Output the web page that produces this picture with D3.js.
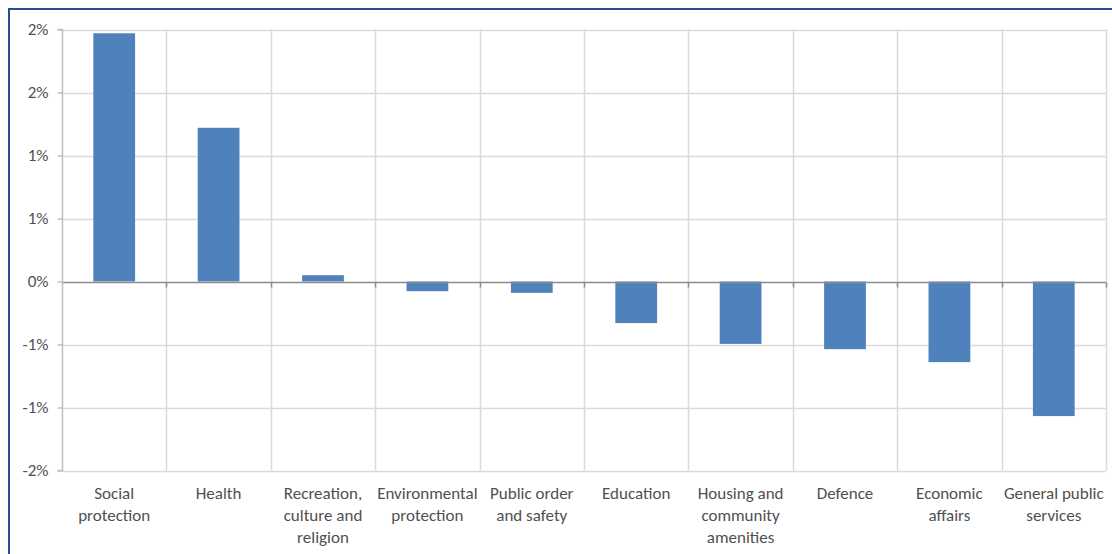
<!DOCTYPE html>
<html>
<head>
<meta charset="utf-8">
<script src="https://cdn.jsdelivr.net/npm/d3@7"></script>
<style>
  html, body { margin: 0; padding: 0; background: #ffffff; }
  svg { display: block; }
  text { font-family: Carlito, Calibri, Lato, "Liberation Sans", sans-serif; fill: #505050; }
</style>
</head>
<body>
<svg id="chart" width="1112" height="554"></svg>
<script>
// Change in spending share by function (percentage points)
const categories = [
  "Social protection", "Health", "Recreation, culture and religion",
  "Environmental protection", "Public order and safety", "Education",
  "Housing and community amenities", "Defence", "Economic affairs",
  "General public services"
];
// Category labels as they wrap under each bar
const categoryLines = [
  ["Social", "protection"],
  ["Health"],
  ["Recreation,", "culture and", "religion"],
  ["Environmental", "protection"],
  ["Public order", "and safety"],
  ["Education"],
  ["Housing and", "community", "amenities"],
  ["Defence"],
  ["Economic", "affairs"],
  ["General public", "services"]
];
const values = [1.97, 1.22, 0.05, -0.077, -0.09, -0.33, -0.495, -0.537, -0.64, -1.068];
const tickValues = [2, 1.5, 1, 0.5, 0, -0.5, -1, -1.5];
const tickLabels = ["2%", "2%", "1%", "1%", "0%", "-1%", "-1%", "-2%"];

const fontSize = 17;
const svg = d3.select("#chart");

// outer frame
svg.append("path")
  .attr("d", "M9,554 L9,9 L1112,9")
  .attr("fill", "none")
  .attr("stroke", "#23508c")
  .attr("stroke-width", 2);

const plotLeft = 62, plotRight = 1106, plotTop = 29.5, plotBottom = 470.5;

const x = d3.scaleBand().domain(categories).range([plotLeft, plotRight]).paddingInner(0).paddingOuter(0);
const y = d3.scaleLinear().domain([-1.5, 2]).range([plotBottom, plotTop]);

const g = svg.append("g");

// horizontal gridlines
g.selectAll("line.hgrid")
  .data(tickValues.filter(v => v !== 0))
  .join("line")
  .attr("class", "hgrid")
  .attr("x1", plotLeft).attr("x2", plotRight)
  .attr("y1", d => Math.round(y(d)) + 0.5).attr("y2", d => Math.round(y(d)) + 0.5)
  .attr("stroke", "#dadada").attr("stroke-width", 1.5);

// vertical gridlines at category boundaries
const bounds = categories.map(c => x(c)).concat([plotRight]).slice(1);
g.selectAll("line.vgrid")
  .data(bounds)
  .join("line")
  .attr("class", "vgrid")
  .attr("x1", d => Math.round(d) + 0.5).attr("x2", d => Math.round(d) + 0.5)
  .attr("y1", plotTop).attr("y2", plotBottom)
  .attr("stroke", "#dadada").attr("stroke-width", 1.5);

// bars
g.selectAll("rect.bar")
  .data(values)
  .join("rect")
  .attr("class", "bar")
  .attr("x", (d, i) => x(categories[i]) + x.bandwidth() * 0.3)
  .attr("width", x.bandwidth() * 0.4)
  .attr("y", d => y(Math.max(0, d)))
  .attr("height", d => Math.abs(y(d) - y(0)))
  .attr("fill", "#4f81bd");

// zero line with category tick marks
const y0 = Math.round(y(0)) + 0.5;
g.append("line")
  .attr("x1", plotLeft).attr("x2", plotRight)
  .attr("y1", y0).attr("y2", y0)
  .attr("stroke", "#8c8c8c").attr("stroke-width", 1.5);
g.selectAll("line.xtick")
  .data(bounds)
  .join("line")
  .attr("class", "xtick")
  .attr("x1", d => Math.round(d) + 0.5).attr("x2", d => Math.round(d) + 0.5)
  .attr("y1", y0).attr("y2", y0 + 5)
  .attr("stroke", "#8c8c8c").attr("stroke-width", 1.5);

// y axis
const yAxis = d3.axisLeft(y)
  .tickValues(tickValues)
  .tickSize(5)
  .tickPadding(9)
  .tickFormat((d, i) => tickLabels[i]);
const ya = svg.append("g")
  .attr("transform", `translate(${plotLeft + 0.5},0)`)
  .call(yAxis);
ya.select(".domain").attr("stroke", "#bfbfbf").attr("stroke-width", 1.5)
  .attr("d", `M-5,${y(2)}H0V${y(-1.5)}H-5`);
ya.selectAll(".tick line").attr("stroke", "#bfbfbf").attr("stroke-width", 1.5);
ya.selectAll(".tick text")
  .attr("font-size", fontSize)
  .style("font-family", "Carlito, Calibri, Lato, 'Liberation Sans', sans-serif")
  .attr("fill", "#505050");

// category labels
const lab = svg.append("g");
categories.forEach((c, i) => {
  const t = lab.append("text")
    .attr("x", x(c) + x.bandwidth() / 2)
    .attr("y", 499)
    .attr("text-anchor", "middle")
    .attr("font-size", fontSize);
  categoryLines[i].forEach((line, k) => {
    t.append("tspan")
      .attr("x", x(c) + x.bandwidth() / 2)
      .attr("dy", k === 0 ? 0 : 22)
      .text(line);
  });
});
</script>
</body>
</html>
